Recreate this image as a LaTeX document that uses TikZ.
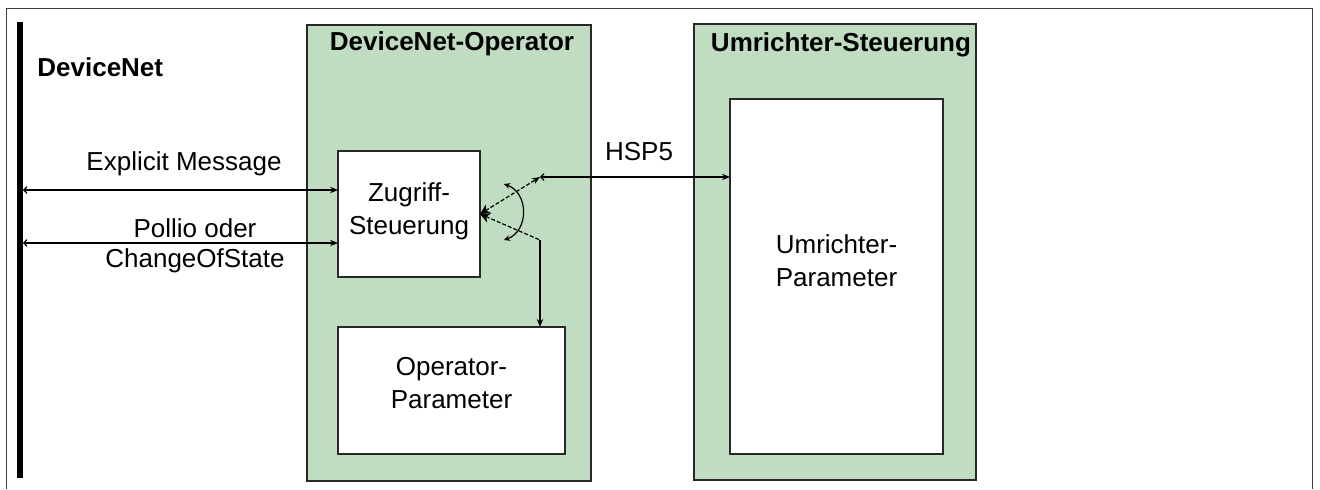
\documentclass[tikz,border=0pt]{standalone}
\usepackage{fontspec}
\setmainfont{Liberation Sans}
\usetikzlibrary{arrows.meta,calc}
\definecolor{boxgreen}{RGB}{192,221,194}
\definecolor{edgegray}{RGB}{40,40,40}
\definecolor{framegray}{RGB}{60,60,60}
\begin{document}
\begin{tikzpicture}[x=0.5pt,y=-0.5pt,
  font=\fontsize{13}{16.5}\selectfont,
  outerbox/.style={draw=edgegray,line width=0.75pt,fill=boxgreen,inner sep=0pt,outer sep=0pt},
  innerbox/.style={draw=edgegray,line width=0.75pt,fill=white,inner sep=0pt,outer sep=0pt},
  titletext/.style={font=\fontsize{13}{16.5}\selectfont\bfseries,inner sep=0pt},
  plaintext/.style={inner sep=0pt,align=center},
  conn/.style={draw=black,line width=0.6pt},
  dashconn/.style={conn,dash pattern=on 2pt off 1pt},
  tipfill/.tip={Stealth[length=4pt,width=3.2pt]},
  tipopen/.tip={Straight Barb[length=1.6pt,width=3.4pt]},
  tipbig/.tip={Stealth[length=5pt,width=5pt]},
  tipsmall/.tip={Stealth[length=3pt,width=3pt]},
]
\useasboundingbox (0,0) rectangle (1320,489);
% outer frame (open at the bottom)
\draw[framegray,line width=0.5pt] (6,489) -- (6,8) -- (1312,8) -- (1312,489);

% DeviceNet bus bar
\node[fill=black,inner sep=0pt,outer sep=0pt,minimum width=3pt,minimum height=228pt] (bus) at (20,250) {};
\node[titletext,anchor=west] (dnlabel) at (37,67) {DeviceNet};

% DeviceNet-Operator
\node[outerbox,minimum width=142pt,minimum height=228pt] (op) at (449,253) {};
\node[titletext] (optitle) at (452,44) {DeviceNet-Operator};
\node[innerbox,minimum width=71pt,minimum height=63pt,
      label={[plaintext,yshift=1.5pt]center:Zugriff-\\Steuerung}] (zug) at (409,214) {};
\node[innerbox,minimum width=113.5pt,minimum height=63.5pt,
      label={[plaintext,yshift=3.5pt]center:Operator-\\Parameter}] (opparam) at (451.5,390.5) {};

% Umrichter-Steuerung
\node[outerbox,minimum width=141pt,minimum height=228pt] (um) at (835,252) {};
\node[titletext] (umtitle) at (841,45) {Umrichter-Steuerung};
\node[innerbox,minimum width=106.5pt,minimum height=177.5pt,
      label={[plaintext,yshift=8pt]center:Umrichter-\\Parameter}] (umparam) at (836.5,276.5) {};

% connector coordinates
\coordinate (e1) at ([yshift=12pt]zug.west);
\coordinate (e2) at ([yshift=-14.5pt]zug.west);
\coordinate (sw) at (540,177);
\coordinate (bend) at (540,240);
\coordinate (a1) at (504,184);
\coordinate (a2) at (504,240);

% DeviceNet messages
\draw[conn,tipopen-tipfill] (bus.east |- e1) -- (e1);
\draw[conn,tipopen-tipfill] (bus.east |- e2) -- (e2);
\node[plaintext] (lexp) at (184,164) {Explicit Message};
\node[plaintext] (lpoll) at (195,228) {Pollio oder};
\node[plaintext] (lcos) at (195,261) {ChangeOfState};

% HSP5
\draw[conn,tipopen-tipfill] (sw) -- (umparam.west |- sw);
\node[plaintext] (lhsp) at (639,152) {HSP5};

% switch from Zugriff-Steuerung
\draw[dashconn,tipbig-tipfill] (zug.east) -- (sw);
\draw[dashconn,tipbig-] (zug.east) -- (bend);
\draw[conn,-tipfill] (bend) -- (bend |- opparam.north);
\draw[conn,tipsmall-tipsmall] (a1) .. controls (529,193) and (529,231) .. (a2);
\end{tikzpicture}
\end{document}
